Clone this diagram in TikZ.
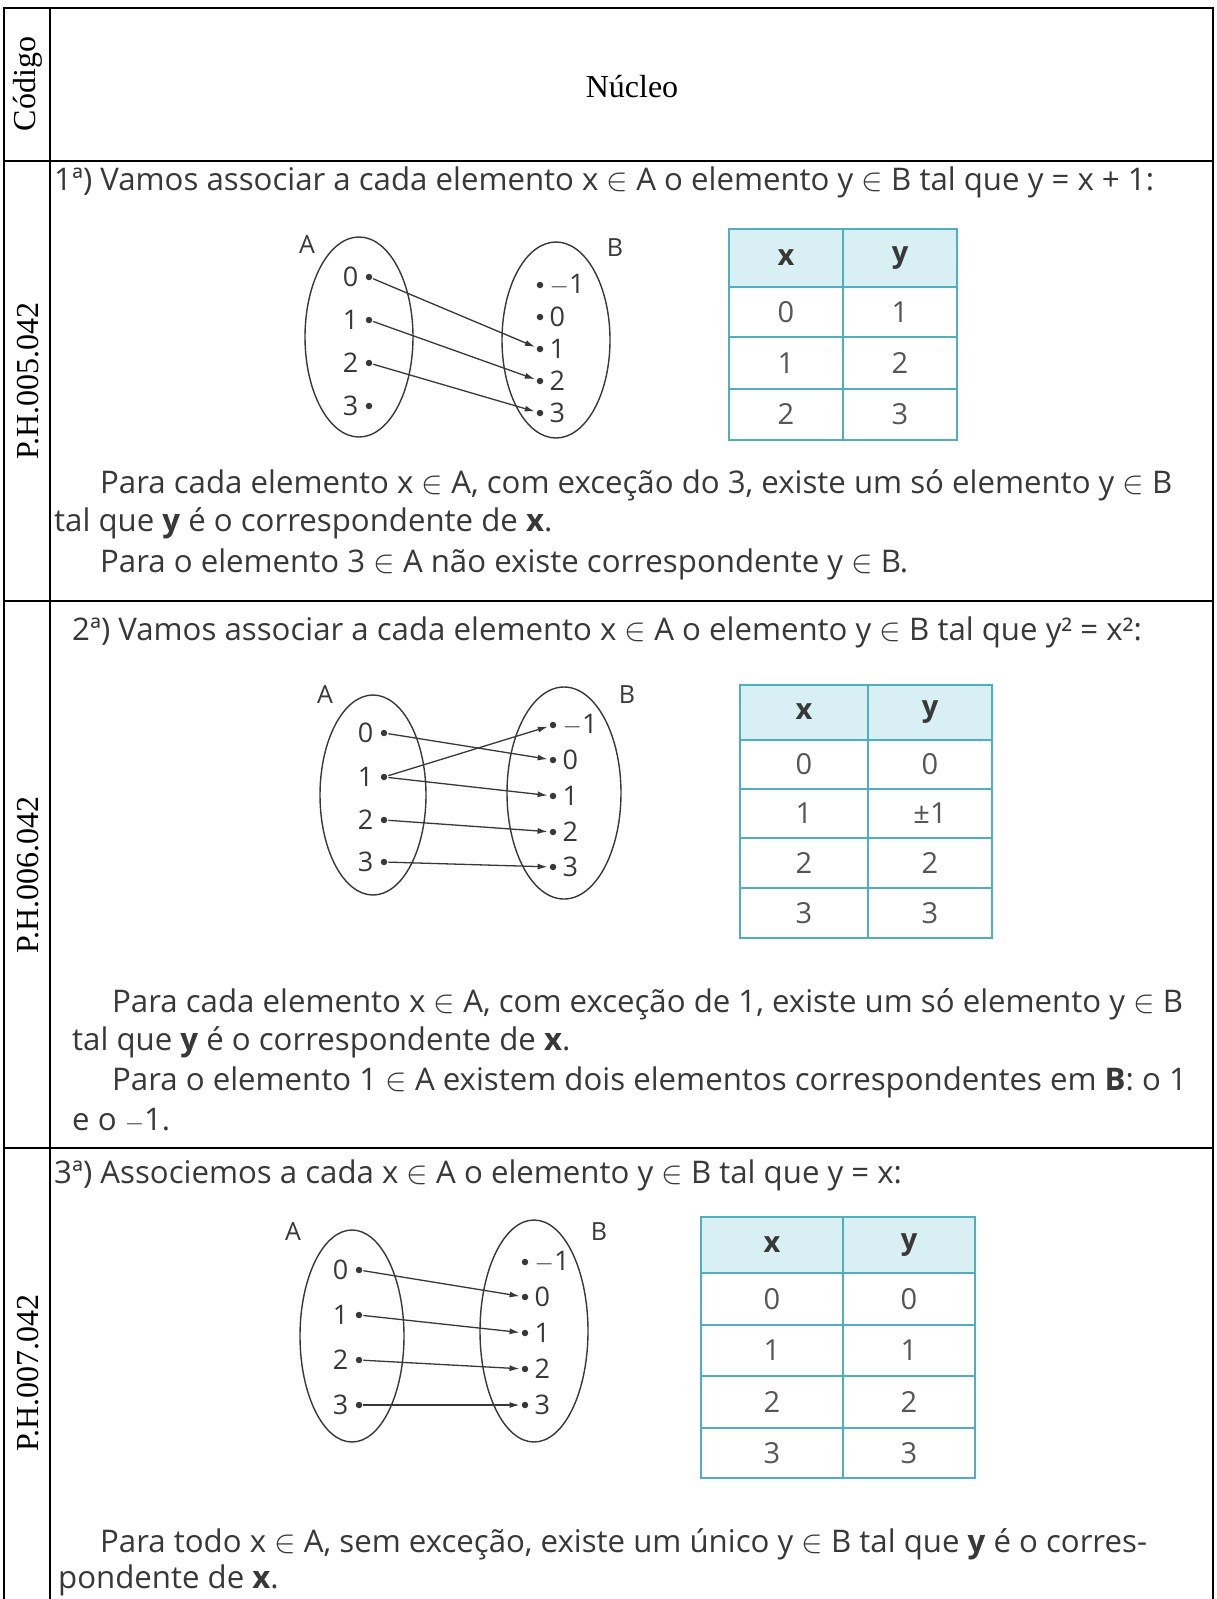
\documentclass[tikz,border=0pt]{standalone}
\usepackage{fontspec}
\setmainfont{Liberation Serif}
\newfontfamily\bodyf{Open Sans}
\usetikzlibrary{arrows.meta,positioning}
\definecolor{ink}{HTML}{383838}
\definecolor{tline}{HTML}{4FAFBE}
\definecolor{thead}{HTML}{D8EFF3}
\newcommand{\el}{\scalebox{1.3}{$\in$}}
\newcommand{\mn}{\ensuremath{-}}
% dot in set A with label on the left / in set B with label on the right
\newcommand{\adot}[3]{\node[dotn] (#1) at (#2) {}; \node[lab,left=7pt of #1] (#1l) {#3};}
\newcommand{\bdot}[3]{\node[dotn] (#1) at (#2) {}; \node[lab,right=6pt of #1] (#1l) {#3};}
\begin{document}
\begin{tikzpicture}[x=1pt,y=-1pt,
  border/.style={line width=2.4pt,black},
  ell/.style={draw=ink,line width=1.4pt},
  dotn/.style={circle,fill=ink,inner sep=0pt,minimum size=6.5pt},
  lab/.style={font=\bodyf\fontsize{27}{28}\selectfont,text=ink,inner sep=0pt},
  setlab/.style={font=\bodyf\fontsize{25}{28}\selectfont,text=ink},
  arr/.style={-{Latex[length=10pt,width=6pt]},line width=1.3pt,ink,shorten >=2pt,shorten <=1pt},
  body/.style={anchor=base west,inner sep=0pt,font=\bodyf\fontsize{31.2}{36}\selectfont,text=ink},
  head/.style={font=\fontsize{32}{36}\selectfont,inner sep=0pt},
  tl/.style={draw=tline,line width=1.5pt},
  tc/.style={font=\bodyf\fontsize{29}{34}\selectfont,text=ink!85,inner sep=0pt},
  th/.style={font=\bodyf\bfseries\fontsize{29}{34}\selectfont,text=ink,inner sep=0pt}
]
\useasboundingbox (0,0) rectangle (1216,1599);
\fill[white] (0,0) rectangle (1216,1599);

% ---------- frame ----------
\draw[border] (4,1599) -- (4,8) -- (1213,8) -- (1213,1599);
\draw[border] (50,8) -- (50,1599);
\draw[border] (4,161) -- (1213,161);
\draw[border] (4,601) -- (1213,601);
\draw[border] (4,1148) -- (1213,1148);

% ---------- header ----------
\node[head,rotate=90] (codigo) at (28,84) {Código};
\node[head] (nucleo) at (632,87) {Núcleo};
\node[head,rotate=90] (c1) at (28,381) {P.H.005.042};
\node[head,rotate=90] (c2) at (28,875) {P.H.006.042};
\node[head,rotate=90] (c3) at (28,1373) {P.H.007.042};

% ---------- row 1 ----------
\node[body] (t11) at (54,190) {1ª) Vamos associar a cada elemento x \el{} A o elemento y \el{} B tal que y = x + 1:};
\node[body] (t12) at (100,493) {Para cada elemento x \el{} A, com exceção do 3, existe um só elemento y \el{} B};
\node[body] (t13) at (54,531) {tal que \textbf{y} é o correspondente de \textbf{x}.};
\node[body] (t14) at (100,572) {Para o elemento 3 \el{} A não existe correspondente y \el{} B.};

\draw[ell] (359,337) ellipse [x radius=54,y radius=100];
\draw[ell] (556,340) ellipse [x radius=54,y radius=98];
\node[setlab] (r1A) at (307,245) {A};
\node[setlab] (r1B) at (615,248) {B};
\adot{r1a0}{369,277}{0}
\adot{r1a1}{369,320}{1}
\adot{r1a2}{369,363}{2}
\adot{r1a3}{369,406}{3}
\bdot{r1bm}{540,285}{\mn1}
\bdot{r1b0}{540,317}{0}
\bdot{r1b1}{540,349}{1}
\bdot{r1b2}{540,381}{2}
\bdot{r1b3}{540,413}{3}
\draw[arr] (r1a0) -- (r1b1);
\draw[arr] (r1a1) -- (r1b2);
\draw[arr] (r1a2) -- (r1b3);

\fill[thead] (729,229) rectangle (957,287);
\draw[tl] (729,229) rectangle (957,440);
\foreach \yy in {287,337,389} \draw[tl] (729,\yy) -- (957,\yy);
\draw[tl] (843,229) -- (843,440);
\node[th] (k1x) at (786,258) {x};
\node[th] (k1y) at (900,258) {y};
\node[tc] (k1a) at (786,312) {0}; \node[tc] (k1b) at (900,312) {1};
\node[tc] (k1c) at (786,363) {1}; \node[tc] (k1d) at (900,363) {2};
\node[tc] (k1e) at (786,414) {2}; \node[tc] (k1f) at (900,414) {3};

% ---------- row 2 ----------
\node[body] (t21) at (72,640) {2ª) Vamos associar a cada elemento x \el{} A o elemento y \el{} B tal que y² = x²:};
\node[body] (t22) at (112,1012) {Para cada elemento x \el{} A, com exceção de 1, existe um só elemento y \el{} B};
\node[body] (t23) at (72,1050) {tal que \textbf{y} é o correspondente de \textbf{x}.};
\node[body] (t24) at (112,1090) {Para o elemento 1 \el{} A existem dois elementos correspondentes em \textbf{B}: o 1};
\node[body] (t25) at (72,1130) {e o \mn1.};

\draw[ell] (373,795) ellipse [x radius=53,y radius=100];
\draw[ell] (564,793) ellipse [x radius=57,y radius=106];
\node[setlab] (r2A) at (325,695) {A};
\node[setlab] (r2B) at (627,695) {B};
\adot{r2a0}{384,733}{0}
\adot{r2a1}{384,777}{1}
\adot{r2a2}{384,820}{2}
\adot{r2a3}{384,862}{3}
\bdot{r2bm}{553,725}{\mn1}
\bdot{r2b0}{553,760}{0}
\bdot{r2b1}{553,796}{1}
\bdot{r2b2}{553,832}{2}
\bdot{r2b3}{553,867}{3}
\draw[arr] (r2a0) -- (r2b0);
\draw[arr] (r2a1) -- (r2bm);
\draw[arr] (r2a1) -- (r2b1);
\draw[arr] (r2a2) -- (r2b2);
\draw[arr] (r2a3) -- (r2b3);

\fill[thead] (740,685) rectangle (992,740);
\draw[tl] (740,685) rectangle (992,938);
\foreach \yy in {740,789,838,888} \draw[tl] (740,\yy) -- (992,\yy);
\draw[tl] (868,685) -- (868,938);
\node[th] (k2x) at (804,712) {x};
\node[th] (k2y) at (930,712) {y};
\node[tc] (k2a) at (804,764) {0}; \node[tc] (k2b) at (930,764) {0};
\node[tc] (k2c) at (804,813) {1}; \node[tc] (k2d) at (930,813) {±1};
\node[tc] (k2e) at (804,863) {2}; \node[tc] (k2f) at (930,863) {2};
\node[tc] (k2g) at (804,913) {3}; \node[tc] (k2h) at (930,913) {3};

% ---------- row 3 ----------
\node[body] (t31) at (54,1183) {3ª) Associemos a cada x \el{} A o elemento y \el{} B tal que y = x:};
\node[body] (t32) at (100,1552) {Para todo x \el{} A, sem exceção, existe um único y \el{} B tal que \textbf{y} é o corres-};
\node[body] (t33) at (58,1588) {pondente de \textbf{x}.};

\draw[ell] (352,1336) ellipse [x radius=52,y radius=106];
\draw[ell] (534,1331) ellipse [x radius=54,y radius=111];
\node[setlab] (r3A) at (293,1232) {A};
\node[setlab] (r3B) at (599,1232) {B};
\adot{r3a0}{359,1270}{0}
\adot{r3a1}{359,1315}{1}
\adot{r3a2}{359,1360}{2}
\adot{r3a3}{359,1405}{3}
\bdot{r3bm}{525,1262}{\mn1}
\bdot{r3b0}{525,1297}{0}
\bdot{r3b1}{525,1333}{1}
\bdot{r3b2}{525,1369}{2}
\bdot{r3b3}{525,1405}{3}
\draw[arr] (r3a0) -- (r3b0);
\draw[arr] (r3a1) -- (r3b1);
\draw[arr] (r3a2) -- (r3b2);
\draw[arr] (r3a3) -- (r3b3);

\fill[thead] (701,1217) rectangle (975,1273);
\draw[tl] (701,1217) rectangle (975,1478);
\foreach \yy in {1273,1325,1376,1428} \draw[tl] (701,\yy) -- (975,\yy);
\draw[tl] (843,1217) -- (843,1478);
\node[th] (k3x) at (772,1245) {x};
\node[th] (k3y) at (909,1245) {y};
\node[tc] (k3a) at (772,1299) {0}; \node[tc] (k3b) at (909,1299) {0};
\node[tc] (k3c) at (772,1350) {1}; \node[tc] (k3d) at (909,1350) {1};
\node[tc] (k3e) at (772,1402) {2}; \node[tc] (k3f) at (909,1402) {2};
\node[tc] (k3g) at (772,1453) {3}; \node[tc] (k3h) at (909,1453) {3};
\end{tikzpicture}
\end{document}
